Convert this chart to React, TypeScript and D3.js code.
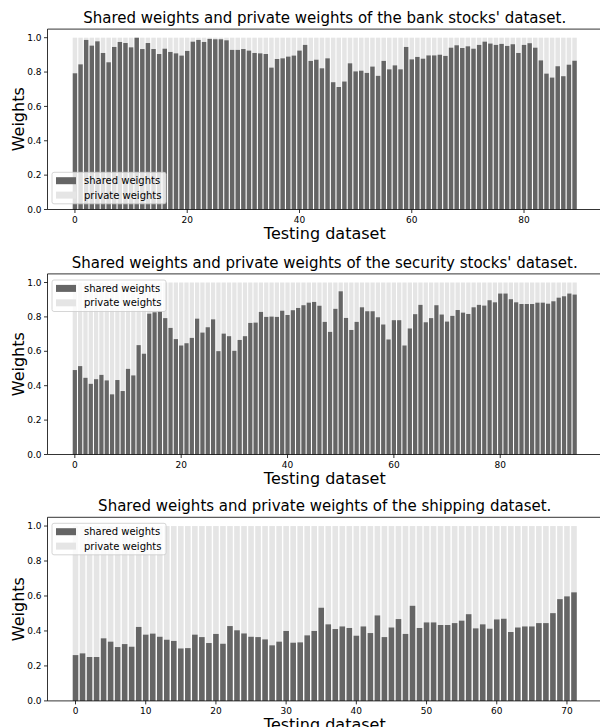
import * as d3 from 'd3';
import React from 'react';

// shared weight per test sample; private weight = 1 - shared
const bankShared = [
  0.793, 0.845, 0.987, 0.954, 0.979, 0.911, 0.857, 0.946, 0.975, 0.969,
  0.944, 1.0, 0.934, 0.969, 0.934, 0.905, 0.936, 0.917, 0.909, 0.896,
  0.923, 0.977, 0.987, 0.975, 0.993, 0.991, 0.991, 0.985, 0.929, 0.929,
  0.934, 0.925, 0.911, 0.909, 0.905, 0.826, 0.876, 0.88, 0.89, 0.896,
  0.925, 0.958, 0.865, 0.872, 0.822, 0.88, 0.741, 0.713, 0.745, 0.851,
  0.804, 0.808, 0.795, 0.832, 0.778, 0.865, 0.816, 0.839, 0.816, 0.946,
  0.874, 0.888, 0.878, 0.897, 0.897, 0.901, 0.894, 0.942, 0.956, 0.94,
  0.95, 0.936, 0.958, 0.977, 0.966, 0.958, 0.964, 0.952, 0.962, 0.911,
  0.958, 0.968, 0.942, 0.868, 0.791, 0.768, 0.834, 0.776, 0.843, 0.866,
];

const securityShared = [
  0.491, 0.514, 0.446, 0.411, 0.438, 0.463, 0.431, 0.35, 0.433, 0.369,
  0.498, 0.46, 0.636, 0.586, 0.819, 0.827, 0.833, 0.793, 0.736, 0.671,
  0.634, 0.647, 0.678, 0.79, 0.709, 0.74, 0.786, 0.601, 0.703, 0.688,
  0.603, 0.666, 0.688, 0.765, 0.767, 0.829, 0.8, 0.802, 0.8, 0.836,
  0.811, 0.839, 0.852, 0.868, 0.883, 0.887, 0.865, 0.771, 0.713, 0.847,
  0.949, 0.794, 0.724, 0.771, 0.856, 0.833, 0.833, 0.798, 0.756, 0.669,
  0.781, 0.781, 0.634, 0.733, 0.816, 0.87, 0.769, 0.793, 0.868, 0.814,
  0.773, 0.806, 0.84, 0.825, 0.817, 0.856, 0.87, 0.866, 0.897, 0.885,
  0.936, 0.936, 0.903, 0.885, 0.875, 0.875, 0.875, 0.883, 0.883, 0.877,
  0.891, 0.912, 0.92, 0.936, 0.93,
];

const shippingShared = [
  0.262, 0.272, 0.251, 0.251, 0.358, 0.339, 0.308, 0.325, 0.31, 0.423,
  0.379, 0.385, 0.367, 0.35, 0.343, 0.3, 0.302, 0.379, 0.365, 0.331,
  0.383, 0.327, 0.428, 0.404, 0.386, 0.367, 0.365, 0.352, 0.318, 0.339,
  0.4, 0.333, 0.335, 0.375, 0.4, 0.533, 0.438, 0.411, 0.426, 0.417,
  0.373, 0.426, 0.388, 0.489, 0.365, 0.42, 0.468, 0.383, 0.544, 0.417,
  0.449, 0.449, 0.434, 0.434, 0.445, 0.459, 0.496, 0.415, 0.438, 0.413,
  0.466, 0.47, 0.394, 0.42, 0.426, 0.426, 0.445, 0.445, 0.502, 0.582,
  0.598, 0.621,
];

const yTicks = [0, 0.2, 0.4, 0.6, 0.8, 1.0];
const bankTicks = [0, 20, 40, 60, 80];
const securityTicks = [0, 20, 40, 60, 80];
const shippingTicks = [0, 10, 20, 30, 40, 50, 60, 70];

const titles = [
  "Shared weights and private weights of the bank stocks' dataset.",
  "Shared weights and private weights of the security stocks' dataset.",
  'Shared weights and private weights of the shipping dataset.',
];
const legendLabels = ['shared weights', 'private weights'];

const SHARED = '#656565';
const PRIVATE = '#e5e5e5';
const FONT = 'DejaVu Sans, sans-serif';

const panels = [
  { data: bankShared, ticks: bankTicks, title: titles[0], top: 29.1, bottom: 209.5, legendTop: 172.3 },
  { data: securityShared, ticks: securityTicks, title: titles[1], top: 273.9, bottom: 454.5, legendTop: 280 },
  { data: shippingShared, ticks: shippingTicks, title: titles[2], top: 517.3, bottom: 700.9, legendTop: 523.3 },
];

const left = 47.5;
const right = 602;

function Panel({ p }: { p: any }) {
  const n = p.data.length;
  // matplotlib style 5% margins around the bars (width 0.8)
  const lo = -0.4, hi = n - 1 + 0.4;
  const pad = (hi - lo) * 0.05;
  const x = d3.scaleLinear().domain([lo - pad, hi + pad]).range([left, right]);
  const y = d3.scaleLinear().domain([0, 1.05]).range([p.bottom, p.top]);
  const bw = x(0.8) - x(0);
  const midX = (left + right) / 2;
  const midY = (p.top + p.bottom) / 2;

  return (
    <g>
      <text x={midX} y={p.top - 6} textAnchor="middle" fontSize={15} fontFamily={FONT}>{p.title}</text>
      {p.data.map((v: number, i: number) => (
        <g key={i}>
          <rect x={x(i) - bw / 2} width={bw} y={y(1)} height={y(v) - y(1)} fill={PRIVATE} />
          <rect x={x(i) - bw / 2} width={bw} y={y(v)} height={y(0) - y(v)} fill={SHARED} />
        </g>
      ))}
      <line x1={left} x2={left} y1={p.top} y2={p.bottom} stroke="#000" strokeWidth={0.8} />
      <line x1={left} x2={right} y1={p.top} y2={p.top} stroke="#000" strokeWidth={0.8} />
      <line x1={left} x2={right} y1={p.bottom} y2={p.bottom} stroke="#000" strokeWidth={0.8} />
      {yTicks.map(t => (
        <g key={t} transform={`translate(${left},${y(t)})`}>
          <line x1={-3.5} x2={0} stroke="#000" strokeWidth={0.8} />
          <text x={-6} dy="0.35em" textAnchor="end" fontSize={9} fontFamily={FONT}>{t.toFixed(1)}</text>
        </g>
      ))}
      {p.ticks.map((t: number) => (
        <g key={t} transform={`translate(${x(t)},${p.bottom})`}>
          <line y1={0} y2={3.5} stroke="#000" strokeWidth={0.8} />
          <text y={13} textAnchor="middle" fontSize={9} fontFamily={FONT}>{t}</text>
        </g>
      ))}
      <text x={midX} y={p.bottom + 29} textAnchor="middle" fontSize={16} fontFamily={FONT}>Testing dataset</text>
      <text transform={`translate(24,${midY}) rotate(-90)`} textAnchor="middle" fontSize={16} fontFamily={FONT}>Weights</text>
      <g transform={`translate(52,${p.legendTop})`}>
        <rect width={114} height={31.5} rx={2} fill="#fff" fillOpacity={0.8} stroke="#cccccc" strokeWidth={0.8} />
        {legendLabels.map((l, k) => (
          <g key={l} transform={`translate(0,${8.4 + k * 14.4})`}>
            <rect x={4} y={-3.5} width={20} height={7} fill={k === 0 ? SHARED : PRIVATE} />
            <text x={32} dy="0.35em" fontSize={10} fontFamily={FONT}>{l}</text>
          </g>
        ))}
      </g>
    </g>
  );
}

export default function App() {
  return (
    <svg width={600} height={727} style={{ position: 'absolute', left: 0, top: 0, background: '#fff' }}>
      {panels.map((p, i) => <Panel key={i} p={p} />)}
    </svg>
  );
}
